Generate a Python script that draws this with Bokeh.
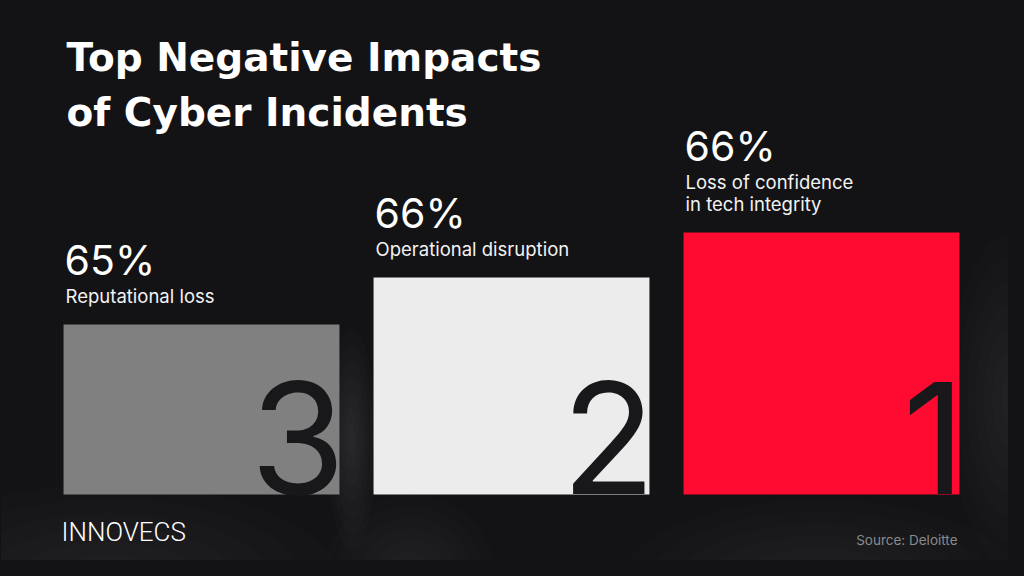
from bokeh.plotting import figure
from bokeh.models import ColumnDataSource, Range1d, Label
from bokeh.core.properties import value
from bokeh.embed import file_html
from bokeh.resources import INLINE

# ---- data ----
categories = ["Reputational loss", "Operational disruption", "Loss of confidence\nin tech integrity"]
shares = [65, 66, 66]
ranks = [3, 2, 1]
podium_height = [170, 217, 262]
bar_colors = ["#808080", "#ececec", "#ff0a30"]
positions = [0, 1, 2]

title_lines = ["Top Negative Impacts", "of Cyber Incidents"]
brand = "INNOVECS"
source_note = "Source: Deloitte"

# soft background glows (page pixel centre x, y, width, height, peak alpha) - decoration only
glow_x = [110, 820, 1010, 352, 410, 860]
glow_y = [585, 585, 400, 440, 575, 190]
glow_w = [460, 400, 120, 50, 170, 300]
glow_h = [200, 170, 330, 220, 160, 170]
glow_a = [0.09, 0.07, 0.07, 0.10, 0.08, 0.04]
LAYERS = 7

BG = "#131315"
BAR_W = 0.89
XU = 310.0
K = 0.37  # svg text baseline compensation (fraction of font size)

p = figure(width=1008, height=560, x_range=Range1d(-0.6484, 2.6032), y_range=Range1d(-66, 494),
           output_backend="svg", toolbar_location=None, min_border=0,
           background_fill_color=BG, border_fill_color=BG, outline_line_color=None)
p.axis.visible = False
p.grid.visible = False

# backdrop glows, built from nested translucent ellipses for a soft falloff
gx, gy, gw, gh, ga = [], [], [], [], []
for cx, cy, w, h, a in zip(glow_x, glow_y, glow_w, glow_h, glow_a):
    for k in range(LAYERS):
        s = 1.0 - k / LAYERS
        gx.append((cx - 202) / XU)
        gy.append(495 - cy)
        gw.append(s * w / XU)
        gh.append(s * h)
        ga.append(a / LAYERS)
p.ellipse(x="x", y="y", width="w", height="h", fill_color="#ffffff", fill_alpha="a",
          line_color=None, source=ColumnDataSource(dict(x=gx, y=gy, w=gw, h=gh, a=ga)))

bars = ColumnDataSource(dict(x=positions, top=podium_height, color=bar_colors,
                             right=[x + BAR_W / 2 for x in positions],
                             rank=[str(r) for r in ranks]))
p.vbar(x="x", top="top", bottom=0, width=BAR_W, color="color", source=bars, line_color=None)

# big rank digits
DIG = 154
p.text(x="right", y=0, text="rank", source=bars, text_align="right", text_baseline="alphabetic",
       text_font=value("Inter"), text_font_size=f"{DIG}px", text_color="#18181b",
       x_offset=6, y_offset=-K * DIG)

# labels and percentages above bars
LAB, PCT = 18.5, 41
lx, ly, lt, loff = [], [], [], []
px_, py_, pt_, poff = [], [], [], []
for i, cat in enumerate(categories):
    lines = cat.split("\n")
    n = len(lines)
    for j, ln in enumerate(lines):
        lx.append(positions[i] - BAR_W / 2)
        ly.append(podium_height[i])
        lt.append(ln)
        loff.append(-22 - 22 * (n - 1 - j) - K * LAB)
    px_.append(positions[i] - BAR_W / 2)
    py_.append(podium_height[i])
    pt_.append(f"{shares[i]}%")
    poff.append(-22 - 22 * (n - 1) - 27 - K * PCT)

p.text(x="x", y="y", text="t", y_offset="o", source=ColumnDataSource(dict(x=lx, y=ly, t=lt, o=loff)),
       text_align="left", text_baseline="alphabetic", text_font=value("Inter"), text_font_size=f"{LAB}px",
       text_color="#f2f2f2", x_offset=2)
p.text(x="x", y="y", text="t", y_offset="o", source=ColumnDataSource(dict(x=px_, y=py_, t=pt_, o=poff)),
       text_align="left", text_baseline="alphabetic", text_font=value("Inter"), text_font_size=f"{PCT}px",
       text_color="#ffffff", x_offset=1)

# title
TS = 39
for t, yy in zip(title_lines, [489, 434]):
    p.add_layout(Label(x=66, y=yy + 0.35 * TS, x_units="screen", y_units="screen", text=t,
                       text_font="DejaVu Sans", text_font_size=f"{TS}px", text_font_style="bold",
                       text_color="#ffffff", text_baseline="alphabetic"))

p.add_layout(Label(x=61, y=19 + K * 26, x_units="screen", y_units="screen", text=brand,
                   text_font="Roboto Light, Roboto", text_font_size="26px", text_color="#ffffff",
                   text_baseline="alphabetic"))
p.add_layout(Label(x=957, y=16 + K * 13.5, x_units="screen", y_units="screen", text=source_note,
                   text_font="Inter", text_font_size="13.5px", text_color="#8a8a8e", text_align="right",
                   text_baseline="alphabetic"))

html = file_html(p, INLINE)
html = html.replace("</head>", f"<style>html,body{{background:{BG};}}</style></head>", 1)
open("out.html", "w").write(html)
